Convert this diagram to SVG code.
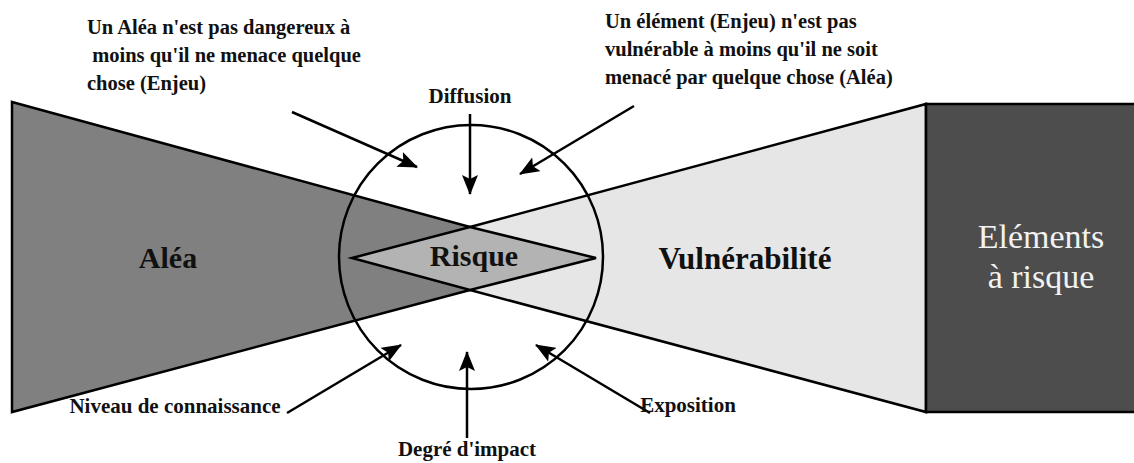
<svg xmlns="http://www.w3.org/2000/svg" width="1134" height="463" viewBox="0 0 1134 463">
<style>
  .shape { stroke: #000; stroke-width: 2.5; }
  .conn line { stroke: #000; stroke-width: 2.5; fill: none; marker-end: url(#ah); }
</style>
<defs>
  <marker id="ah" markerUnits="userSpaceOnUse" markerWidth="20" markerHeight="16" viewBox="0 0 20 16" refX="19" refY="8" orient="auto">
    <path d="M0,0 L20,8 L0,16 L4,8 Z" fill="#000"/>
  </marker>
</defs>
<rect width="1134" height="463" fill="#fff"/>

<g id="alea">
  <polygon class="shape" points="12,102 470,227 470,290 12,412" fill="#808080"/>
</g>
<g id="vulnerabilite">
  <polygon class="shape" points="470,227 926,104 926,412 470,290" fill="#e6e6e6"/>
</g>
<g id="elements">
  <rect class="shape" x="926" y="104" width="220" height="308" fill="#4d4d4d"/>
</g>
<g id="risque">
  <polygon class="shape" points="352,258 470,227 596,258 470,290" fill="#b3b3b3"/>
</g>
<g id="cercle">
  <circle class="shape" cx="471" cy="257" r="132" fill="none"/>
</g>

<g id="connecteurs" class="conn">
  <line x1="292" y1="112" x2="417" y2="167"/>
  <line x1="470" y1="114" x2="470" y2="194"/>
  <line x1="634" y1="106" x2="520" y2="174"/>
  <line x1="287" y1="413" x2="401" y2="345"/>
  <line x1="467" y1="438" x2="467" y2="352"/>
  <line x1="650" y1="413" x2="536" y2="345"/>
</g>

<g id="textes" font-family="'Liberation Serif', serif" font-weight="bold" fill="#111">
  <g font-size="30" text-anchor="middle">
    <text x="168" y="268">Aléa</text>
    <text x="745" y="269" font-size="31">Vulnérabilité</text>
    <text x="474" y="266">Risque</text>
  </g>
  <g font-size="34" font-weight="normal" fill="#f2f2f2" text-anchor="middle">
    <text x="1041" y="248">Eléments</text>
    <text x="1041" y="288">à risque</text>
  </g>
  <g font-size="20.5">
    <text x="87" y="34">Un Aléa n'est pas dangereux à</text>
    <text x="87" y="62" xml:space="preserve"> moins qu'il ne menace quelque</text>
    <text x="87" y="90">chose (Enjeu)</text>
    <text x="605" y="28">Un élément (Enjeu) n'est pas</text>
    <text x="605" y="56">vulnérable à moins qu'il ne soit</text>
    <text x="605" y="84">menacé par quelque chose (Aléa)</text>
  </g>
  <g font-size="21" text-anchor="middle">
    <text x="470" y="103">Diffusion</text>
    <text x="175" y="413">Niveau de connaissance</text>
    <text x="467" y="456">Degré d'impact</text>
    <text x="688" y="412">Exposition</text>
  </g>
</g>
</svg>
